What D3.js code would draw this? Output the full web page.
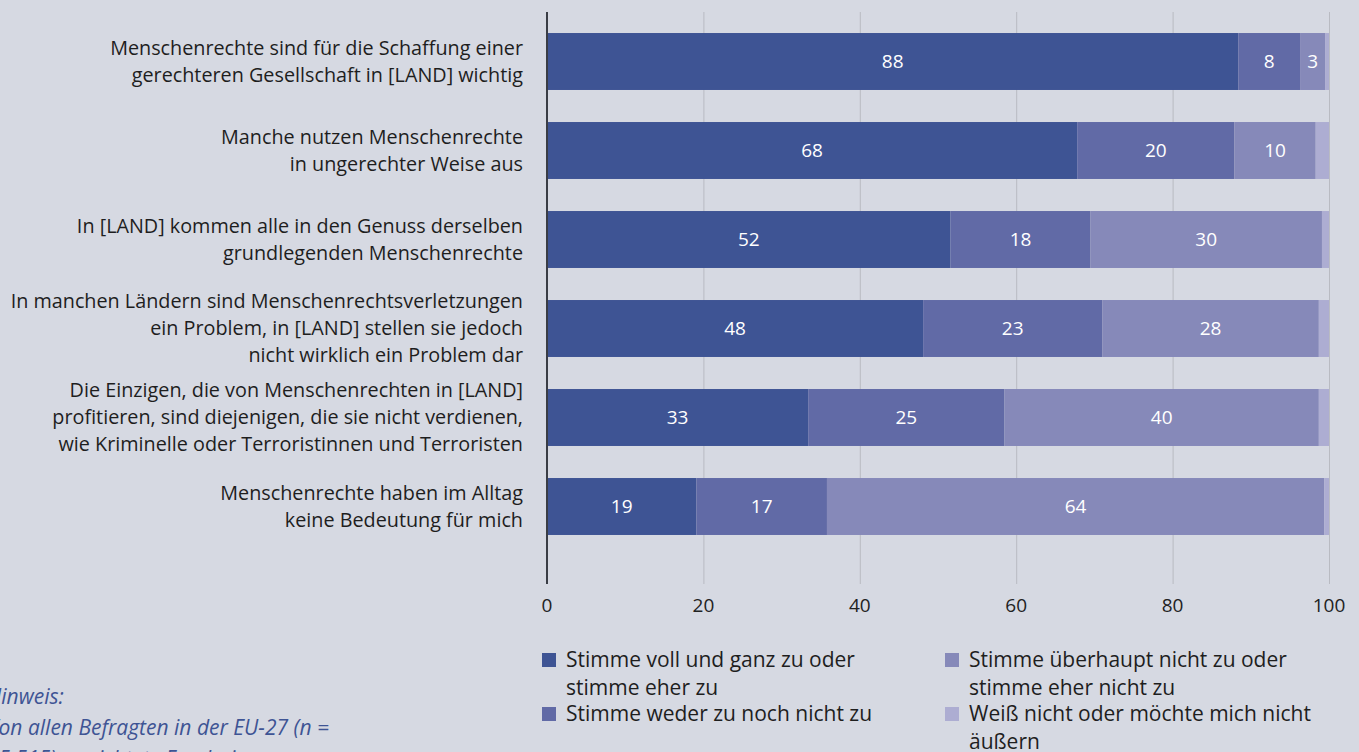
<!DOCTYPE html>
<html>
<head>
<meta charset="utf-8">
<script src="https://cdn.jsdelivr.net/npm/d3@7"></script>
<style>
  html, body { margin: 0; padding: 0; background: #d6d9e2; overflow: hidden; }
  svg { display: block; font-family: "Open Sans", sans-serif; }
</style>
</head>
<body>
<div id="chart"></div>
<script>
const width = 1359;
const height = 752;

// Statements (top to bottom), each split into the lines shown
const categories = [
    ["Menschenrechte sind für die Schaffung einer", "gerechteren Gesellschaft in [LAND] wichtig"],
    ["Manche nutzen Menschenrechte", "in ungerechter Weise aus"],
    ["In [LAND] kommen alle in den Genuss derselben", "grundlegenden Menschenrechte"],
    ["In manchen Ländern sind Menschenrechtsverletzungen", "ein Problem, in [LAND] stellen sie jedoch", "nicht wirklich ein Problem dar"],
    ["Die Einzigen, die von Menschenrechten in [LAND]", "profitieren, sind diejenigen, die sie nicht verdienen,", "wie Kriminelle oder Terroristinnen und Terroristen"],
    ["Menschenrechte haben im Alltag", "keine Bedeutung für mich"]
];

const seriesNames = [
    ["Stimme voll und ganz zu oder", "stimme eher zu"],
    ["Stimme weder zu noch nicht zu"],
    ["Stimme überhaupt nicht zu oder", "stimme eher nicht zu"],
    ["Weiß nicht oder möchte mich nicht", "äußern"]
];

// Shares in %, one array per answer, in category order
const agree    = [88.4, 67.8, 51.6, 48.1, 33.4, 19.1];
const neutral  = [7.9, 20.1, 17.9, 22.9, 25.1, 16.7];
const disagree = [3.2, 10.4, 29.6, 27.7, 40.2, 63.6];
const dontKnow = [0.5, 1.7, 0.9, 1.3, 1.3, 0.6];

const xTicks = [0, 20, 40, 60, 80, 100];

const colors = ["#3e5494", "#616aa6", "#8689b9", "#adadd2"];

const rows = categories.map((c, i) => ({
    id: i,
    lines: c,
    values: [agree[i], neutral[i], disagree[i], dontKnow[i]]
}));

const svg = d3.select("#chart")
    .append("svg")
    .attr("width", width)
    .attr("height", height);

const x = d3.scaleLinear()
    .domain([0, 100])
    .range([547, 1329]);

const y = d3.scaleBand()
    .domain(rows.map(d => d.id))
    .range([17, 551])
    .paddingInner(0.36)
    .paddingOuter(0.18);

// Grid lines
svg.append("g")
    .selectAll("line")
    .data(xTicks.slice(1))
    .enter()
    .append("line")
    .attr("x1", d => x(d) + 0.5)
    .attr("x2", d => x(d) + 0.5)
    .attr("y1", 12)
    .attr("y2", 584)
    .attr("stroke", "#b9bbc2")
    .attr("stroke-width", 1);

// Stacked segments
const stack = d3.stack()
    .keys([0, 1, 2, 3])
    .value((d, k) => d.values[k]);

const layers = stack(rows);

const seg = svg.append("g")
    .selectAll("g")
    .data(layers)
    .enter()
    .append("g")
    .attr("fill", (d, i) => colors[i]);

seg.selectAll("rect")
    .data(d => d)
    .enter()
    .append("rect")
    .attr("x", d => x(d[0]))
    .attr("y", d => y(d.data.id))
    .attr("width", d => x(d[1]) - x(d[0]))
    .attr("height", y.bandwidth());

// Value labels (not for "don't know")
seg.filter((d, i) => i < 3)
    .selectAll("text")
    .data(d => d)
    .enter()
    .append("text")
    .attr("x", d => (x(d[0]) + x(d[1])) / 2)
    .attr("y", d => y(d.data.id) + y.bandwidth() / 2)
    .attr("dy", "0.35em")
    .attr("text-anchor", "middle")
    .attr("fill", "#ffffff")
    .attr("font-size", "19px")
    .text(d => Math.round(d[1] - d[0]));

// Axis line at 0
svg.append("line")
    .attr("x1", x(0))
    .attr("x2", x(0))
    .attr("y1", 12)
    .attr("y2", 584)
    .attr("stroke", "#3a3d45")
    .attr("stroke-width", 2);

// X tick labels
svg.append("g")
    .selectAll("text")
    .data(xTicks)
    .enter()
    .append("text")
    .attr("x", d => x(d))
    .attr("y", 605)
    .attr("dy", "0.35em")
    .attr("text-anchor", "middle")
    .attr("fill", "#222")
    .attr("font-size", "19px")
    .text(d => d);

// Category labels
const lineH = 27;
const cat = svg.append("g")
    .selectAll("text")
    .data(rows)
    .enter()
    .append("text")
    .attr("text-anchor", "end")
    .attr("fill", "#1e1e1e")
    .attr("font-size", "19.8px");

cat.each(function (d) {
    const cy = y(d.id) + y.bandwidth() / 2;
    const n = d.lines.length;
    d3.select(this).selectAll("tspan")
        .data(d.lines)
        .enter()
        .append("tspan")
        .attr("x", 523)
        .attr("y", (l, i) => cy + (i - (n - 1) / 2) * lineH)
        .attr("dy", "0.35em")
        .text(l => l);
});

// Legend, two columns
const legendPos = [
    { x: 542, y: 660 },
    { x: 542, y: 714 },
    { x: 945, y: 660 },
    { x: 945, y: 714 }
];

const legend = svg.append("g")
    .selectAll("g")
    .data(seriesNames)
    .enter()
    .append("g")
    .attr("transform", (d, i) => `translate(${legendPos[i].x},${legendPos[i].y})`);

legend.append("rect")
    .attr("x", 0)
    .attr("y", -7)
    .attr("width", 14)
    .attr("height", 14)
    .attr("fill", (d, i) => colors[i]);

legend.append("text")
    .attr("fill", "#1e1e1e")
    .attr("font-size", "21px")
    .selectAll("tspan")
    .data(d => d)
    .enter()
    .append("tspan")
    .attr("x", 24)
    .attr("y", (l, i) => i * 28)
    .attr("dy", "0.35em")
    .text(l => l);

// Note, cut off at the left and bottom edge as in the source
const note = ["Hinweis:", "Von allen Befragten in der EU-27 (n =", "25 515) gewichtete Ergebnisse"];
svg.append("text")
    .attr("fill", "#3e5494")
    .attr("font-size", "21px")
    .attr("font-style", "italic")
    .selectAll("tspan")
    .data(note)
    .enter()
    .append("tspan")
    .attr("x", -13)
    .attr("y", (l, i) => 704 + i * 31)
    .text(l => l);
</script>
</body>
</html>
